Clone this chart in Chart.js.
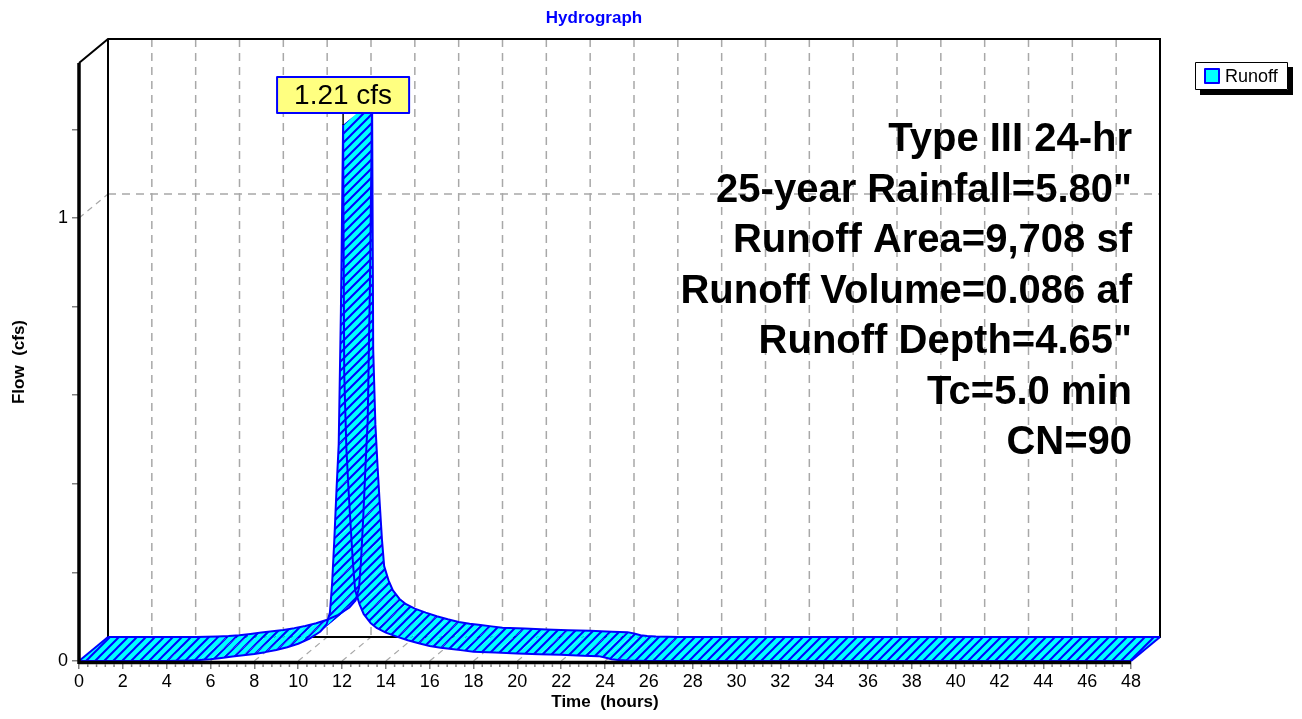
<!DOCTYPE html>
<html>
<head>
<meta charset="utf-8">
<title>Hydrograph</title>
<script src="https://cdn.jsdelivr.net/npm/chart.js@4.4.1/dist/chart.umd.min.js"></script>
<style>
  html, body { margin: 0; padding: 0; background: #fff; }
  #wrap { width: 1302px; height: 719px; }
</style>
</head>
<body>
<div id="wrap"><canvas id="hydroChart" width="1302" height="719"></canvas></div>
<script>
// hydrograph (hours, cfs)
const hours = [0, 4, 5, 5.5, 6, 6.5, 7, 7.5, 8, 8.5, 9, 9.5, 10, 10.5, 11, 11.3, 11.45,
    11.55, 11.65, 11.75, 11.85, 11.95, 12.05, 12.1, 12.2, 12.3, 12.4, 12.5, 12.6, 12.8,
    13.0, 13.3, 13.6, 14.0, 14.5, 15.0, 15.5, 16.0, 16.5, 17.0, 17.5, 18.0, 19.0, 20.0,
    21.0, 22.0, 23.0, 23.7, 24.0, 24.3, 24.6, 25.0, 26.0, 48];
const flows = [0, 0, 0.001, 0.002, 0.004, 0.007, 0.010, 0.013, 0.016, 0.020, 0.025, 0.031,
    0.039, 0.050, 0.066, 0.083, 0.11, 0.176, 0.274, 0.387, 0.49, 0.79, 1.21, 0.65, 0.48,
    0.385, 0.30, 0.22, 0.16, 0.128, 0.105, 0.086, 0.074, 0.064, 0.055, 0.047, 0.040, 0.034,
    0.030, 0.027, 0.024, 0.021, 0.019, 0.017, 0.015, 0.014, 0.012, 0.011, 0.008, 0.004,
    0.002, 0.001, 0, 0];

const seriesName = 'Runoff';
const infoLines = [
    'Type III 24-hr',
    '25-year Rainfall=5.80"',
    'Runoff Area=9,708 sf',
    'Runoff Volume=0.086 af',
    'Runoff Depth=4.65"',
    'Tc=5.0 min',
    'CN=90'
];

const FONT = '"Liberation Sans", Arial, sans-serif';
const DX = 29, DY = -24;   // depth offset of the back wall

function line(ctx, x1, y1, x2, y2) {
    ctx.beginPath();
    ctx.moveTo(x1, y1);
    ctx.lineTo(x2, y2);
    ctx.stroke();
}

function makeHatch(ctx) {
    const c = document.createElement('canvas');
    c.width = 9; c.height = 9;
    const g = c.getContext('2d');
    g.fillStyle = '#00ffff';
    g.fillRect(0, 0, 9, 9);
    g.strokeStyle = '#0000ff';
    g.lineWidth = 2;
    g.beginPath();
    g.moveTo(-1, 10); g.lineTo(10, -1);
    g.moveTo(-1, 1); g.lineTo(1, -1);
    g.moveTo(8, 10); g.lineTo(10, 8);
    g.stroke();
    return ctx.createPattern(c, 'repeat');
}

const backWall = {
    id: 'backWall',
    beforeDraw(chart) {
        const {ctx, chartArea: a, scales: {x, y}} = chart;
        const bl = a.left + DX, br = a.right + DX, bt = a.top + DY, bb = a.bottom + DY;
        ctx.save();
        ctx.fillStyle = '#fff';
        ctx.fillRect(0, 0, chart.width, chart.height);

        ctx.strokeStyle = '#a8a8a8';
        ctx.lineWidth = 1.5;
        ctx.setLineDash([8, 6]);
        for (let h = 2; h < 48; h += 2) {
            const px = x.getPixelForValue(h) + DX;
            line(ctx, px, bt, px, bb);
        }
        const p1 = y.getPixelForValue(1);
        line(ctx, bl, p1 + DY, br, p1 + DY);
        ctx.setLineDash([6, 5]);
        ctx.lineWidth = 1.2;
        line(ctx, a.left, p1, bl, p1 + DY);
        for (let h = 2; h <= 48; h += 2) {
            const px = x.getPixelForValue(h);
            line(ctx, px, a.bottom, px + DX, bb);
        }

        ctx.setLineDash([]);
        ctx.strokeStyle = '#000';
        ctx.lineWidth = 2;
        ctx.beginPath();
        ctx.moveTo(a.left, a.top);
        ctx.lineTo(bl, bt);
        ctx.lineTo(br, bt);
        ctx.lineTo(br, bb);
        ctx.lineTo(bl, bb);
        ctx.lineTo(bl, bt);
        ctx.stroke();
        ctx.restore();
    },
    afterDatasetsDraw(chart) {
        const {ctx, chartArea: a, scales: {x}} = chart;
        const pts = chart.getDatasetMeta(0).data.map(p => ({x: p.x, y: p.y}));
        const n = pts.length;
        ctx.save();

        // ribbon surface
        ctx.fillStyle = makeHatch(ctx);
        for (let i = 0; i < n - 1; i++) {
            const p = pts[i], q = pts[i + 1];
            ctx.beginPath();
            ctx.moveTo(p.x, p.y);
            ctx.lineTo(q.x, q.y);
            ctx.lineTo(q.x + DX, q.y + DY);
            ctx.lineTo(p.x + DX, p.y + DY);
            ctx.closePath();
            ctx.fill();
        }
        ctx.strokeStyle = '#0000ff';
        ctx.lineWidth = 2;
        ctx.lineJoin = 'round';
        ctx.beginPath();
        pts.forEach((p, i) => i ? ctx.lineTo(p.x, p.y) : ctx.moveTo(p.x, p.y));
        ctx.stroke();
        ctx.beginPath();
        pts.forEach((p, i) => i ? ctx.lineTo(p.x + DX, p.y + DY) : ctx.moveTo(p.x + DX, p.y + DY));
        ctx.stroke();
        line(ctx, pts[0].x, pts[0].y, pts[0].x + DX, pts[0].y + DY);
        line(ctx, pts[n - 1].x, pts[n - 1].y, pts[n - 1].x + DX, pts[n - 1].y + DY);

        // front axes
        ctx.strokeStyle = '#000';
        ctx.lineWidth = 3.5;
        line(ctx, a.left, a.top, a.left, a.bottom + 3);
        line(ctx, a.left, a.bottom + 1.5, a.right, a.bottom + 1.5);

        // minor time ticks
        ctx.strokeStyle = '#808080';
        ctx.lineWidth = 1.5;
        for (let k = 1; k < 120; k++) {
            if (k % 5 === 0) continue;
            const px = x.getPixelForValue(k * 0.4);
            line(ctx, px, a.bottom + 3, px, a.bottom + 6);
        }

        // peak label
        let k = 0;
        flows.forEach((v, i) => { if (v > flows[k]) k = i; });
        const pk = pts[k];
        const txt = flows[k].toFixed(2) + ' cfs';
        ctx.font = '28px ' + FONT;
        const tw = ctx.measureText(txt).width;
        const bw = tw + 34, bh = 36, bb = pk.y - 12;
        ctx.strokeStyle = '#000';
        ctx.lineWidth = 1.5;
        line(ctx, pk.x, bb, pk.x, pk.y);
        ctx.fillStyle = '#ffff80';
        ctx.fillRect(pk.x - bw / 2, bb - bh, bw, bh);
        ctx.strokeStyle = '#0000ff';
        ctx.lineWidth = 2;
        ctx.strokeRect(pk.x - bw / 2, bb - bh, bw, bh);
        ctx.fillStyle = '#000';
        ctx.textAlign = 'center';
        ctx.textBaseline = 'middle';
        ctx.fillText(txt, pk.x, bb - bh / 2 + 1);

        // storm info block
        ctx.font = 'bold 40px ' + FONT;
        ctx.textAlign = 'right';
        ctx.textBaseline = 'alphabetic';
        infoLines.forEach((s, i) => ctx.fillText(s, a.right + 1, 151 + i * 50.5));

        // title
        ctx.font = 'bold 17px ' + FONT;
        ctx.fillStyle = '#0000ff';
        ctx.textAlign = 'center';
        ctx.textBaseline = 'middle';
        ctx.fillText('Hydrograph', 594, 18);

        // legend
        ctx.fillStyle = '#000';
        ctx.fillRect(1200, 67, 93, 28);
        ctx.fillStyle = '#fff';
        ctx.fillRect(1195, 62, 93, 28);
        ctx.strokeStyle = '#000';
        ctx.lineWidth = 1;
        ctx.strokeRect(1195.5, 62.5, 92, 27);
        ctx.fillStyle = '#00ffff';
        ctx.fillRect(1205, 69, 14, 14);
        ctx.strokeStyle = '#0000ff';
        ctx.lineWidth = 2;
        ctx.strokeRect(1205, 69, 14, 14);
        ctx.fillStyle = '#000';
        ctx.font = '18px ' + FONT;
        ctx.textAlign = 'left';
        ctx.fillText(seriesName, 1225, 77);
        ctx.restore();
    }
};

const hydroData = {
    datasets: [{
        label: seriesName,
        data: hours.map((h, i) => ({x: h, y: flows[i]})),
        showLine: false,
        pointRadius: 0,
        pointHoverRadius: 0,
    }]
};

const hydroConfig = {
    type: 'line',
    data: hydroData,
    options: {
        responsive: false,
        animation: false,
        layout: {
            padding: {top: 63, right: 171, bottom: 0, left: 0}
        },
        scales: {
            x: {
                type: 'linear',
                min: 0,
                max: 48,
                ticks: {
                    stepSize: 2,
                    autoSkip: false,
                    maxRotation: 0,
                    padding: 2,
                    color: '#000',
                    font: {family: FONT, size: 18},
                },
                grid: {drawOnChartArea: false, tickLength: 8, color: '#808080', lineWidth: 1.5},
                border: {display: false},
                title: {
                    display: true,
                    text: 'Time  (hours)',
                    color: '#000',
                    font: {family: FONT, size: 17, weight: 'bold'},
                    padding: {top: 0, bottom: 6},
                },
                afterFit: s => { s.height = 58; },
            },
            y: {
                type: 'linear',
                min: 0,
                max: 1.35,
                ticks: {
                    stepSize: 0.2,
                    includeBounds: false,
                    autoSkip: false,
                    padding: 4,
                    color: '#000',
                    font: {family: FONT, size: 18},
                    callback: v => Math.abs(v - Math.round(v)) < 1e-6 ? String(Math.round(v)) : '',
                },
                grid: {drawOnChartArea: false, tickLength: 7, color: '#808080', lineWidth: 1.5},
                border: {display: false},
                title: {
                    display: true,
                    text: 'Flow  (cfs)',
                    color: '#000',
                    font: {family: FONT, size: 17, weight: 'bold'},
                    padding: {top: 9, bottom: 0},
                },
                afterFit: s => { s.width = 79; },
            }
        },
        plugins: {
            legend: {display: false},
            title: {display: false},
            tooltip: {enabled: false},
        }
    },
    plugins: [backWall]
};

const hydroCtx = document.getElementById('hydroChart').getContext('2d');
new Chart(hydroCtx, hydroConfig);
</script>
</body>
</html>
